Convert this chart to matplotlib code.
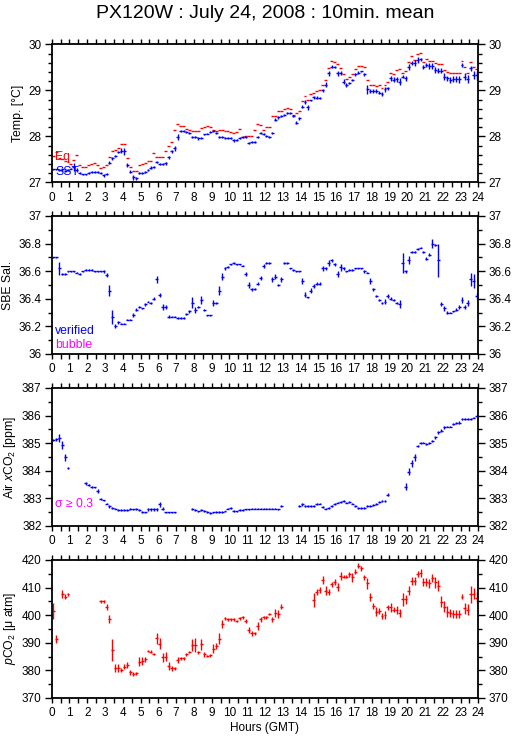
import numpy as np
import matplotlib
matplotlib.use("Agg")
import matplotlib.pyplot as plt
from matplotlib.ticker import MultipleLocator

plt.rcParams['font.family'] = ['Liberation Sans', 'DejaVu Sans']
plt.rcParams['mathtext.fontset'] = 'custom'
plt.rcParams['mathtext.rm'] = 'Liberation Sans'
plt.rcParams['mathtext.it'] = 'Liberation Sans:italic'

nan = np.nan
title = "PX120W : July 24, 2008 : 10min. mean"

# 10-minute means, 6 values per hour (hours 0..23)
sst = [
    27.28, 27.28, 27.27, 27.28, 27.24, 27.27,
    27.30, 27.33, 27.27, 27.21, 27.17, 27.17,
    27.21, 27.23, 27.23, 27.23, 27.21, 27.15,
    27.18, 27.43, 27.52, 27.57, 27.66, 27.69,
    27.67, 27.38, 27.23, 27.11, 27.09, 27.20,
    27.21, 27.22, 27.26, 27.32, 27.34, 27.44,
    27.39, 27.39, 27.41, 27.54, 27.67, 27.74,
    27.99, 28.12, 28.11, 28.10, 28.08, 27.99,
    27.98, 27.96, 27.97, 28.04, 28.06, 28.09,
    28.12, 28.07, 27.98, 27.98, 27.96, 27.96,
    27.96, 27.91, 27.92, 27.96, 27.99, 27.99,
    27.85, 27.87, 27.87, 27.99, 28.08, 28.05,
    28.00, 27.99, 28.07, 28.36, 28.41, 28.44,
    28.46, 28.51, 28.50, 28.44, 28.30, 28.39,
    28.64, 28.75, 28.63, 28.78, 28.85, 28.84,
    28.84, 29.00, 29.12, 29.37, 29.51, 29.51,
    29.37, 29.38, 29.19, 29.12, 29.15, 29.22,
    29.35, 29.38, 29.41, 29.35, 29.02, 28.99,
    28.99, 28.99, 28.95, 28.92, 29.02, 29.04,
    29.26, 29.23, 29.24, 29.19, 29.30, 29.26,
    29.51, 29.59, 29.59, 29.66, 29.67, 29.51,
    29.55, 29.53, 29.53, 29.44, 29.43, 29.43,
    29.30, 29.26, 29.22, 29.24, 29.24, 29.24,
    29.55, 29.30, 29.24, 29.48, 29.33, 29.33,
]
sst_err = [
    .02, .02, .02, .03, .02, .02,
    .02, .08, .04, .02, .02, .02,
    .02, .02, .02, .02, .02, .03,
    .03, .04, .03, .03, .03, .05,
    .07, .05, .03, .05, .03, .02,
    .02, .02, .02, .03, .02, .03,
    .02, .02, .03, .03, .04, .05,
    .06, .02, .02, .02, .02, .02,
    .02, .03, .02, .02, .02, .02,
    .02, .02, .02, .02, .02, .02,
    .02, .03, .02, .02, .02, .02,
    .02, .02, .02, .02, .02, .02,
    .02, .02, .02, .03, .04, .03,
    .02, .02, .02, .02, .04, .04,
    .03, .04, .06, .02, .03, .03,
    .02, .03, .05, .05, .03, .02,
    .06, .05, .05, .04, .02, .02,
    .03, .03, .02, .03, .09, .04,
    .04, .04, .04, .04, .05, .04,
    .06, .05, .06, .07, .04, .05,
    .06, .05, .06, .06, .04, .04,
    .05, .06, .07, .06, .06, .06,
    .08, .06, .06, .07, .07, .08,
    .05, .08, .09, .05, .08, .10,
]
teq = [
    27.57, 27.66, 27.53, 27.50, 27.47, 27.44,
    27.40, 27.48, 27.60, 27.38, 27.34, 27.34,
    27.38, 27.40, 27.41, 27.38, 27.32, 27.34,
    27.38, 27.56, 27.67, 27.70, 27.74, 27.83,
    27.83, 27.52, 27.34, 27.25, 27.25, 27.38,
    27.39, 27.41, 27.47, 27.47, 27.63, 27.56,
    27.56, 27.56, 27.67, 27.79, 27.88, 28.14,
    28.26, 28.23, 28.23, 28.16, 28.14, 28.12,
    28.12, 28.12, 28.17, 28.21, 28.23, 28.21,
    28.14, 28.12, 28.14, 28.14, 28.12, 28.12,
    28.09, 28.08, 28.09, 28.15, 27.99, 28.00,
    28.00, 28.00, 28.14, 28.26, 28.25, 28.14,
    28.20, 28.20, 28.44, 28.44, 28.54, 28.54,
    28.59, 28.62, 28.59, 28.46, 28.51, 28.54,
    28.77, 28.88, 28.80, 28.93, 28.94, 28.99,
    29.00, 29.12, 29.22, 29.48, 29.64, 29.62,
    29.57, 29.48, 29.36, 29.25, 29.30, 29.36,
    29.46, 29.53, 29.53, 29.50, 29.22, 29.12,
    29.12, 29.10, 29.12, 29.04, 29.12, 29.19,
    29.37, 29.36, 29.44, 29.46, 29.38, 29.41,
    29.61, 29.75, 29.66, 29.80, 29.82, 29.61,
    29.68, 29.64, 29.64, 29.59, 29.57, 29.57,
    29.44, 29.39, 29.37, 29.37, 29.37, 29.37,
    29.64, 29.50, 29.37, 29.61, 29.50, 29.46,
]
sal = [
    36.70, 36.70, 36.62, 36.58, 36.58, 36.60,
    36.60, 36.60, 36.59, 36.58, 36.60, 36.61,
    36.61, 36.61, 36.60, 36.60, 36.60, 36.60,
    36.57, 36.46, 36.27, 36.20, 36.23, 36.22,
    36.22, 36.25, 36.25, 36.28, 36.32, 36.34,
    36.33, 36.36, 36.38, 36.37, 36.40, 36.54,
    36.43, 36.34, 36.34, 36.27, 36.27, 36.27,
    36.26, 36.26, 36.26, 36.29, 36.31, 36.37,
    36.32, 36.34, 36.39, 36.32, 36.28, 36.28,
    36.37, 36.37, 36.46, 36.56, 36.62, 36.63,
    36.65, 36.66, 36.65, 36.65, 36.64, 36.58,
    36.50, 36.47, 36.47, 36.51, 36.55, 36.64,
    36.66, 36.66, 36.54, 36.56, 36.50, 36.54,
    36.66, 36.66, 36.62, 36.61, 36.60, 36.60,
    36.53, 36.43, 36.41, 36.46, 36.49, 36.51,
    36.51, 36.62, 36.62, 36.66, 36.68, 36.65,
    36.58, 36.63, 36.62, 36.60, 36.61, 36.61,
    36.62, 36.62, 36.62, 36.60, 36.59, 36.53,
    36.47, 36.42, 36.39, 36.37, 36.38, 36.42,
    36.40, 36.39, 36.37, 36.36, 36.66, 36.60,
    36.68, 36.74, 36.74, 36.76, 36.77, 36.74,
    36.69, 36.72, 36.80, 36.79, 36.68, 36.36,
    36.33, 36.30, 36.30, 36.31, 36.32, 36.34,
    36.39, 36.34, 36.37, 36.54, 36.53, 36.42,
]
sal_err = [
    .005, .005, .05, .01, .005, .005,
    .005, .005, .005, .005, .005, .005,
    .005, .005, .005, .005, .005, .01,
    .015, .04, .05, .015, .01, .005,
    .005, .005, .005, .015, .01, .005,
    .005, .01, .005, .005, .01, .025,
    .015, .02, .015, .01, .005, .005,
    .005, .005, .005, .005, .01, .04,
    .02, .01, .03, .005, .005, .005,
    .02, .005, .03, .025, .01, .005,
    .005, .005, .005, .005, .005, .015,
    .02, .01, .005, .01, .015, .015,
    .01, .005, .02, .02, .01, .015,
    .005, .005, .005, .005, .005, .005,
    .02, .02, .005, .02, .015, .01,
    .01, .015, .01, .02, .01, .01,
    .02, .025, .01, .005, .005, .005,
    .005, .005, .005, .01, .005, .02,
    .01, .01, .005, .01, .02, .015,
    .01, .005, .01, .03, .07, .01,
    .03, .01, .005, .005, .005, .01,
    .01, .01, .03, .01, .12, .015,
    .015, .01, .005, .005, .01, .015,
    .02, .015, .02, .05, .05, .02,
]
air = [
    385.12, 385.14, 385.18, 384.94, 384.49, 384.09,
    nan, nan, nan, nan, nan, 383.54,
    383.48, 383.42, 383.40, 383.27, 382.99, 382.93,
    382.81, 382.72, 382.66, 382.63, 382.57, 382.57,
    382.57, 382.57, 382.61, 382.60, 382.61, 382.57,
    382.51, 382.49, 382.60, 382.60, 382.60, 382.61,
    382.78, 382.63, 382.49, 382.49, 382.49, 382.49,
    nan, nan, nan, nan, nan, 382.61,
    382.57, 382.53, 382.57, 382.55, 382.51, 382.47,
    382.49, 382.51, 382.51, 382.51, 382.53, 382.63,
    382.66, 382.55, 382.53, 382.57, 382.57, 382.60,
    382.60, 382.63, 382.63, 382.63, 382.63, 382.63,
    382.63, 382.63, 382.63, 382.63, 382.60, 382.72,
    nan, nan, nan, nan, nan, 382.73,
    382.78, 382.72, 382.72, 382.72, 382.73, 382.79,
    382.81, 382.69, 382.63, 382.66, 382.72, 382.79,
    382.85, 382.87, 382.90, 382.85, 382.87, 382.81,
    382.72, 382.66, 382.66, 382.66, 382.72, 382.73,
    382.75, 382.79, 382.87, 382.91, 382.91, 383.14,
    nan, nan, nan, nan, nan, 383.42,
    383.97, 384.27, 384.49, 384.91, 385.02, 385.02,
    384.96, 385.00, 385.08, 385.22, 385.39, 385.46,
    385.57, 385.60, 385.60, 385.69, 385.73, 385.75,
    385.87, 385.87, 385.87, 385.88, 385.93, 385.99,
]
air_err = [
    .04, .06, .14, .15, .12, .04,
    .03, .03, .03, .03, .03, .04,
    .04, .04, .03, .06, .04, .03,
    .03, .05, .03, .03, .03, .03,
    .03, .03, .03, .03, .03, .03,
    .03, .03, .05, .05, .06, .05,
    .08, .05, .03, .03, .03, .03,
    .03, .03, .03, .03, .03, .03,
    .03, .03, .03, .03, .03, .03,
    .03, .03, .03, .03, .03, .03,
    .03, .03, .03, .03, .03, .03,
    .03, .03, .03, .03, .03, .03,
    .03, .03, .03, .03, .03, .03,
    .03, .03, .03, .03, .03, .04,
    .04, .03, .03, .03, .03, .04,
    .03, .03, .03, .03, .03, .03,
    .03, .03, .03, .03, .03, .03,
    .03, .03, .03, .03, .03, .03,
    .03, .03, .03, .03, .05, .06,
    .03, .03, .03, .03, .03, .12,
    .12, .12, .12, .04, .04, .03,
    .03, .03, .04, .05, .05, .04,
    .04, .03, .03, .03, .03, .05,
    .04, .03, .03, .03, .03, .03,
]
pco2 = [
    401.6, 391.3, nan, 407.7, 406.7, 407.6,
    nan, nan, nan, nan, nan, nan,
    nan, nan, nan, nan, 405.0, 405.0,
    402.9, 398.5, 387.4, 381.0, 381.0, 380.1,
    381.4, 382.0, 379.3, 378.7, 378.9, 383.2,
    383.5, 384.0, 387.0, 386.8, 385.9, 391.6,
    389.6, 384.7, 385.0, 381.7, 380.7, 380.7,
    383.8, 384.4, 384.4, 385.8, 386.7, 389.2,
    389.2, 386.5, 389.4, 385.8, 385.2, 385.5,
    387.9, 388.8, 391.4, 396.7, 398.9, 398.5,
    398.5, 398.5, 397.9, 398.9, 399.2, 397.9,
    394.6, 393.4, 393.4, 396.1, 398.5, 399.2,
    399.2, 400.4, 398.5, 400.9, 400.4, 403.1,
    nan, nan, nan, nan, nan, nan,
    nan, nan, nan, nan, 405.5, 408.5,
    409.1, 412.8, 408.9, 408.5, 411.2, 412.1,
    410.3, 414.2, 414.0, 414.0, 414.8, 413.7,
    415.8, 418.0, 417.0, 413.7, 411.5, 406.5,
    403.3, 401.3, 401.5, 399.7, 400.1, 402.8,
    402.8, 402.0, 402.0, 400.8, 405.7, 405.7,
    408.9, 412.4, 412.4, 414.9, 415.2, 412.0,
    412.0, 411.5, 413.4, 412.0, 410.6, 404.9,
    403.1, 401.3, 400.7, 400.4, 400.4, 400.4,
    406.7, 402.5, 401.9, 407.6, 407.7, 406.4,
]
pco2_err = [
    3.0, 1.5, 1.0, 1.5, 1.0, 0.5,
    1.0, 1.0, 1.0, 1.0, 1.0, 1.0,
    1.0, 1.0, 1.0, 1.0, 0.5, 0.5,
    1.0, 1.5, 4.0, 1.5, 1.5, 0.8,
    1.0, 1.0, 0.8, 0.8, 0.5, 1.5,
    1.5, 1.0, 0.5, 0.5, 0.5, 2.0,
    2.0, 1.5, 1.5, 1.5, 1.0, 0.5,
    1.0, 0.5, 0.5, 0.5, 0.5, 2.0,
    2.5, 0.5, 2.0, 1.0, 0.5, 0.5,
    1.5, 1.0, 2.0, 1.5, 0.5, 0.5,
    0.5, 0.5, 0.5, 0.5, 0.5, 0.8,
    1.0, 1.0, 0.5, 1.5, 1.0, 0.5,
    0.5, 0.5, 1.0, 1.5, 1.5, 1.0,
    1.0, 1.0, 1.0, 1.0, 1.0, 1.0,
    1.0, 1.0, 1.0, 1.0, 2.5, 1.0,
    1.0, 1.5, 1.5, 1.0, 1.0, 1.0,
    1.5, 1.5, 0.5, 0.5, 1.0, 1.5,
    1.0, 1.0, 1.0, 1.0, 2.0, 1.5,
    1.0, 1.5, 1.0, 1.0, 1.5, 1.0,
    1.5, 1.0, 1.5, 1.5, 2.5, 1.5,
    1.5, 1.5, 1.5, 1.0, 1.5, 1.5,
    1.5, 1.5, 1.5, 2.0, 2.0, 2.0,
    2.0, 2.0, 1.5, 1.5, 1.5, 1.5,
    1.0, 2.0, 2.0, 3.0, 2.0, 2.0,
]

hour_labels = [str(h) for h in range(25)]

BLUE = '#0000ff'
RED = '#ff0000'
MAG = '#ff00ff'

t = np.arange(144) / 6.0 + 1 / 12.0
half = 1 / 12.0

W, H = 515, 739
fig = plt.figure(figsize=(W / 100, H / 100), dpi=100)

left = 51.7 / W
width = 426.6 / W
ph = 138 / H
tops = [44.3, 216, 388, 560]

panels = [
    dict(ylim=(27, 30), major=1, minor=0.2, fmt='{:g}', ylabel='Temp. [°C]'),
    dict(ylim=(36, 37), major=0.2, minor=0.1, fmt='{:.1f}', ylabel='SBE Sal.'),
    dict(ylim=(382, 387), major=1, minor=0.5, fmt='{:g}', ylabel=r'Air $x$CO$_2$ [ppm]'),
    dict(ylim=(370, 420), major=10, minor=5, fmt='{:g}', ylabel=r'$p$CO$_2$ [μ atm]'),
]

axes = []
for i, p in enumerate(panels):
    bottom = 1 - (tops[i] + 138) / H
    ax = fig.add_axes([left, bottom, width, ph])
    ax.set_xlim(0, 24)
    ax.set_ylim(*p['ylim'])
    ax.set_xticks(range(25))
    ax.set_xticklabels(hour_labels)
    ax.xaxis.set_minor_locator(MultipleLocator(0.5))
    ax.yaxis.set_major_locator(MultipleLocator(p['major']))
    ax.yaxis.set_minor_locator(MultipleLocator(p['minor']))
    yt = ax.get_yticks()
    yt = [v for v in yt if p['ylim'][0] - 1e-9 <= v <= p['ylim'][1] + 1e-9]
    ax.set_yticks(yt)
    lab = [p['fmt'].format(v) for v in yt]
    if i == 1:
        lab = ['36', '36.2', '36.4', '36.6', '36.8', '37']
    ax.set_yticklabels(lab)
    ax.tick_params(which='both', direction='out', top=True, right=True,
                   labelright=True, labelsize=8.5, width=1.0, pad=2.5)
    ax.tick_params(which='major', length=4.8)
    ax.tick_params(which='minor', length=3.2)
    ax.tick_params(axis='x', which='major', length=3.8, pad=3)
    ax.tick_params(axis='x', which='minor', length=3.8)
    for s in ax.spines.values():
        s.set_linewidth(1.3)
    ax.set_ylabel(p['ylabel'], fontsize=8.8, labelpad=3)
    axes.append(ax)

ekw = dict(fmt='none', elinewidth=1.0, capsize=0)

ax = axes[0]
ax.errorbar(t, teq, xerr=half, ecolor=RED, **ekw)
ax.errorbar(t, sst, xerr=half, yerr=sst_err, ecolor=BLUE, **ekw)
ax.text(0.008, 0.18, 'Eq', color=RED, fontsize=8.8, transform=ax.transAxes, va='center')
ax.text(0.008, 0.075, 'SST', color=BLUE, fontsize=8.8, transform=ax.transAxes, va='center')

ax = axes[1]
ax.errorbar(t, sal, xerr=half, yerr=sal_err, ecolor=BLUE, **ekw)
ax.text(0.008, 0.167, 'verified', color=BLUE, fontsize=8.8, transform=ax.transAxes, va='center')
ax.text(0.008, 0.065, 'bubble', color=MAG, fontsize=8.8, transform=ax.transAxes, va='center')

ax = axes[2]
ax.errorbar(t, air, xerr=half, yerr=air_err, ecolor=BLUE, **ekw)
ax.text(0.008, 0.157, 'σ ≥ 0.3', color=MAG, fontsize=8.8, transform=ax.transAxes, va='center')

ax = axes[3]
ax.errorbar(t, pco2, xerr=half, yerr=pco2_err, ecolor=RED, **ekw)
ax.set_xlabel('Hours (GMT)', fontsize=8.5, labelpad=2)

fig.text(0.515, 1 - 13 / H, title, ha='center', va='center', fontsize=14)

fig.savefig('out.png', dpi=100)
